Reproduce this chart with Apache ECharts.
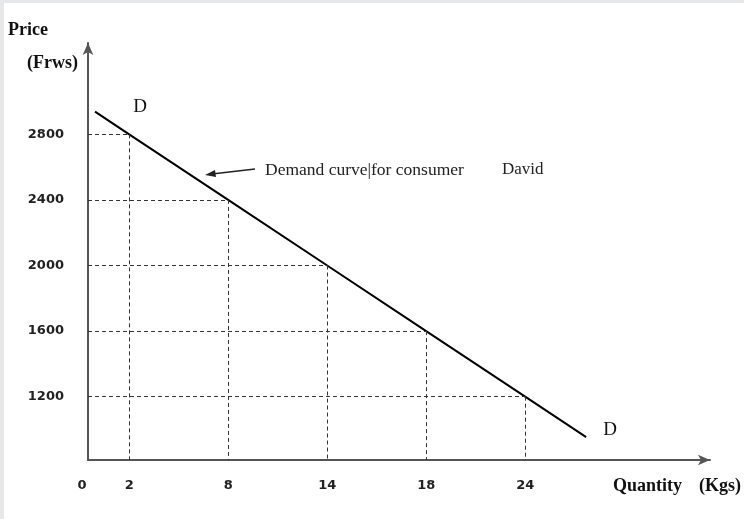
<!DOCTYPE html>
<html>
<head>
<meta charset="utf-8">
<script src="https://cdn.jsdelivr.net/npm/echarts@6/dist/echarts.min.js"></script>
<style>
html,body{margin:0;padding:0;background:#e6e7e9;width:744px;height:519px;overflow:hidden}
#c{position:absolute;left:4px;top:3px;width:740px;height:516px;background:#fff}
</style>
</head>
<body>
<div id="c"></div>
<script>
// Demand schedule for consumer David
const quantities = [2, 8, 14, 18, 24];          // Kgs
const prices = [2800, 2400, 2000, 1600, 1200];  // Frws
const xTickLabels = ['0', '2', '8', '14', '18', '24'];
const yTickLabels = [1200, 1600, 2000, 2400, 2800];

// The quantity axis is drawn schematically: each quantity occupies one evenly spaced slot
const slots = quantities.map((q, i) => i + 1);
const originSlot = 0.584, axisEndSlot = 6.867;
const priceMin = 814, priceMax = 3357;
const lineStartSlot = 0.655, lineEndSlot = 5.616;

// extrapolate the straight demand line a little beyond the first and last points
function extrap(s) {
  const n = slots.length;
  const k = (prices[n - 1] - prices[0]) / (slots[n - 1] - slots[0]);
  return prices[0] + k * (s - slots[0]);
}
const lineData = [[lineStartSlot, extrap(lineStartSlot)]]
  .concat(slots.map((s, i) => [s, prices[i]]))
  .concat([[lineEndSlot, extrap(lineEndSlot)]]);

const xCustom = [originSlot].concat(slots);
const xLabelMap = {};
xCustom.forEach((v, i) => { xLabelMap[v.toFixed(3)] = xTickLabels[i]; });

const dropLines = [];
slots.forEach((s, i) => {
  dropLines.push([{ coord: [originSlot, prices[i]] }, { coord: [s, prices[i]] }]);
  dropLines.push([{ coord: [s, prices[i]] }, { coord: [s, priceMin] }]);
});

const chart = echarts.init(document.getElementById('c'));
const serif = '"Liberation Serif", "Times New Roman", serif';
const tickFont = { color: '#222', fontFamily: '"DejaVu Sans", sans-serif', fontWeight: 'bold', fontSize: 13 };
chart.setOption({
  animation: false,
  backgroundColor: '#fff',
  grid: { left: 84, top: 40, right: 34, bottom: 59 },
  xAxis: {
    type: 'value', min: originSlot, max: axisEndSlot,
    splitLine: { show: false },
    axisTick: { show: false },
    axisLine: { show: true, lineStyle: { color: '#555', width: 2 }, symbol: ['none', 'arrow'], symbolSize: [8, 12] },
    axisLabel: Object.assign({
      customValues: xCustom,
      margin: 19,
      formatter: v => {
        const t = xLabelMap[v.toFixed(3)];
        return v === originSlot ? '{z|' + t + '}' : t;
      },
      rich: { z: Object.assign({ padding: [0, 12, 0, 0] }, tickFont) }
    }, tickFont)
  },
  yAxis: {
    type: 'value', min: priceMin, max: priceMax,
    splitLine: { show: false },
    axisTick: { show: false },
    axisLine: { show: true, lineStyle: { color: '#555', width: 2 }, symbol: ['none', 'arrow'], symbolSize: [8, 12] },
    axisLabel: Object.assign({
      customValues: yTickLabels,
      margin: 24,
      formatter: v => String(v)
    }, tickFont)
  },
  series: [{
    type: 'line',
    data: lineData,
    symbol: 'none',
    lineStyle: { color: '#000', width: 2 },
    markLine: {
      silent: true, symbol: ['none', 'none'], label: { show: false },
      lineStyle: { color: '#333', width: 1, type: [4, 3] },
      data: dropLines
    },
    z: 3
  }],
  graphic: [
    { type: 'text', left: 4, top: 18, style: { text: 'Price', font: 'bold 18px ' + serif, fill: '#111' } },
    { type: 'text', left: 23, top: 51, style: { text: '(Frws)', font: 'bold 18px ' + serif, fill: '#111' } },
    { type: 'text', x: 136, y: 104, style: { text: 'D', font: '19px ' + serif, fill: '#111', align: 'center', verticalAlign: 'middle' } },
    { type: 'text', x: 606, y: 427, style: { text: 'D', font: '19px ' + serif, fill: '#111', align: 'center', verticalAlign: 'middle' } },
    { type: 'text', x: 261, y: 167, style: { text: 'Demand curve|for consumer', font: '17.5px ' + serif, fill: '#222', verticalAlign: 'middle' } },
    { type: 'text', x: 498, y: 167, style: { text: 'David', font: '17px ' + serif, fill: '#222', verticalAlign: 'middle' } },
    { type: 'line', shape: { x1: 251, y1: 166, x2: 208, y2: 171 }, style: { stroke: '#222', lineWidth: 1.3 } },
    { type: 'polygon', shape: { points: [[201, 172], [211, 167], [212, 174]] }, style: { fill: '#222' } },
    { type: 'text', x: 609, y: 483, style: { text: 'Quantity', font: 'bold 18px ' + serif, fill: '#111', verticalAlign: 'middle' } },
    { type: 'text', x: 695, y: 483, style: { text: '(Kgs)', font: 'bold 18px ' + serif, fill: '#111', verticalAlign: 'middle' } }
  ]
});
</script>
</body>
</html>
